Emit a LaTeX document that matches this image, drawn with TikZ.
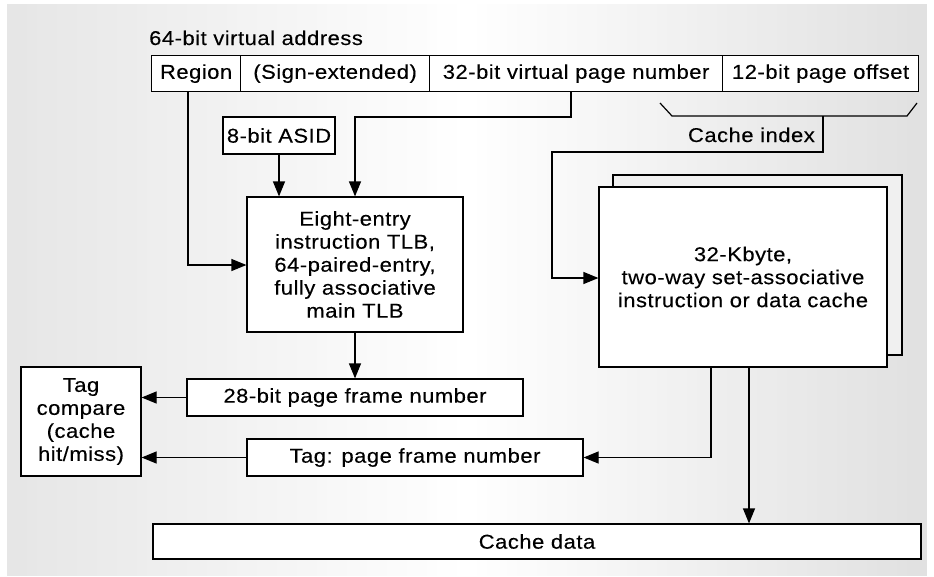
\documentclass[tikz,border=0pt]{standalone}
\usepackage{fontspec}
\setmainfont{Liberation Sans}[FakeStretch=1.1,LetterSpace=2.5,FakeBold=0.2]
\usetikzlibrary{arrows.meta}
\begin{document}
\begin{tikzpicture}[x=1pt,y=-1pt,
  every node/.style={font=\fontsize{20}{23}\selectfont},
  box/.style={draw=black,fill=white,line width=1.2pt,inner sep=0pt,align=center},
  con/.style={draw=black,line width=1.2pt},
  arr/.style={con,-{Triangle[length=15pt,width=12pt]}}]
\useasboundingbox (0,0) rectangle (934,576);
% background: horizontal gradient grey - white - grey
\foreach \i in {0,...,91}{
  \pgfmathsetmacro{\xa}{7+10*\i}
  \pgfmathsetmacro{\xm}{\xa+5}
  \pgfmathsetmacro{\p}{\xm<467 ? 20*(467-\xm)/460 : 24*(\xm-467)/460}
  \fill[gray!\p] (\xa,4) rectangle ({min(\xa+10.6,927)},576);
}
% title
\node[anchor=base west,inner sep=0pt] (title) at (149,45) {64-bit virtual address};
% address fields
\node[box,anchor=north west,minimum width=89pt,minimum height=36pt] (reg) at (151,55) {Region};
\node[box,anchor=north west,minimum width=189pt,minimum height=36pt] (sgn) at (240,55) {(Sign-extended)};
\node[box,anchor=north west,minimum width=293pt,minimum height=36pt] (vpn) at (429,55) {32-bit virtual page number};
\node[box,anchor=north west,minimum width=196pt,minimum height=36pt] (off) at (722,55) {12-bit page offset};
% ASID
\node[box,minimum width=112pt,minimum height=37pt] (asid) at (279,135.5) {8-bit ASID};
% TLB
\node[box,minimum width=216pt,minimum height=135pt] (tlb) at (355,264.5) {Eight-entry\\instruction TLB,\\64-paired-entry,\\fully associative\\main TLB};
% page frame number
\node[box,minimum width=336pt,minimum height=37pt] (pfn) at (355,397.5) {28-bit page frame number};
% tag compare
\node[box,minimum width=120pt,minimum height=109pt] (cmp) at (81,421.5) {Tag\\compare\\(cache\\hit/miss)};
% tag pfn
\node[box,minimum width=336pt,minimum height=37pt] (tag) at (415,457.5) {Tag: page frame number};
% cache
\node[box,fill=gray!12,minimum width=289pt,minimum height=180pt] (cacheb) at (757.5,265) {};
\node[box,minimum width=288pt,minimum height=180pt] (cache) at (743,277) {32-Kbyte,\\two-way set-associative\\instruction or data cache};
% cache data
\node[box,minimum width=768pt,minimum height=35pt] (data) at (537,541.5) {Cache data};
% cache index bracket
\coordinate (b1) at (660,103);
\coordinate (b2) at (672,116);
\coordinate (b3) at (907,116);
\coordinate (b4) at (917,103);
\coordinate (bi) at (823,116);
\draw[con] (b1) -- (b2) -- (b3) -- (b4);
\node[anchor=base east,inner sep=0pt] (cidx) at (815,142) {Cache index};
% connectors
\draw[arr] (reg.south -| 188,0) -- (188,265) -- (tlb.west |- 0,265);
\draw[arr] (asid.south) -- (tlb.north -| asid.south);
\draw[arr] (vpn.south -| 571,0) -- (571,117) -- (355,117) -- (tlb.north);
\draw[arr] (tlb.south) -- (pfn.north);
\draw[arr] (pfn.west) -- (cmp.east |- pfn.west);
\draw[arr] (tag.west) -- (cmp.east |- tag.west);
\draw[arr] (bi) -- (823,152) -- (552,152) -- (552,278) -- (cache.west |- 0,278);
\draw[arr] (cache.south -| 711,0) -- (711,457.5) -- (tag.east);
\draw[arr] (cache.south -| 749,0) -- (data.north -| 749,0);
\end{tikzpicture}
\end{document}
